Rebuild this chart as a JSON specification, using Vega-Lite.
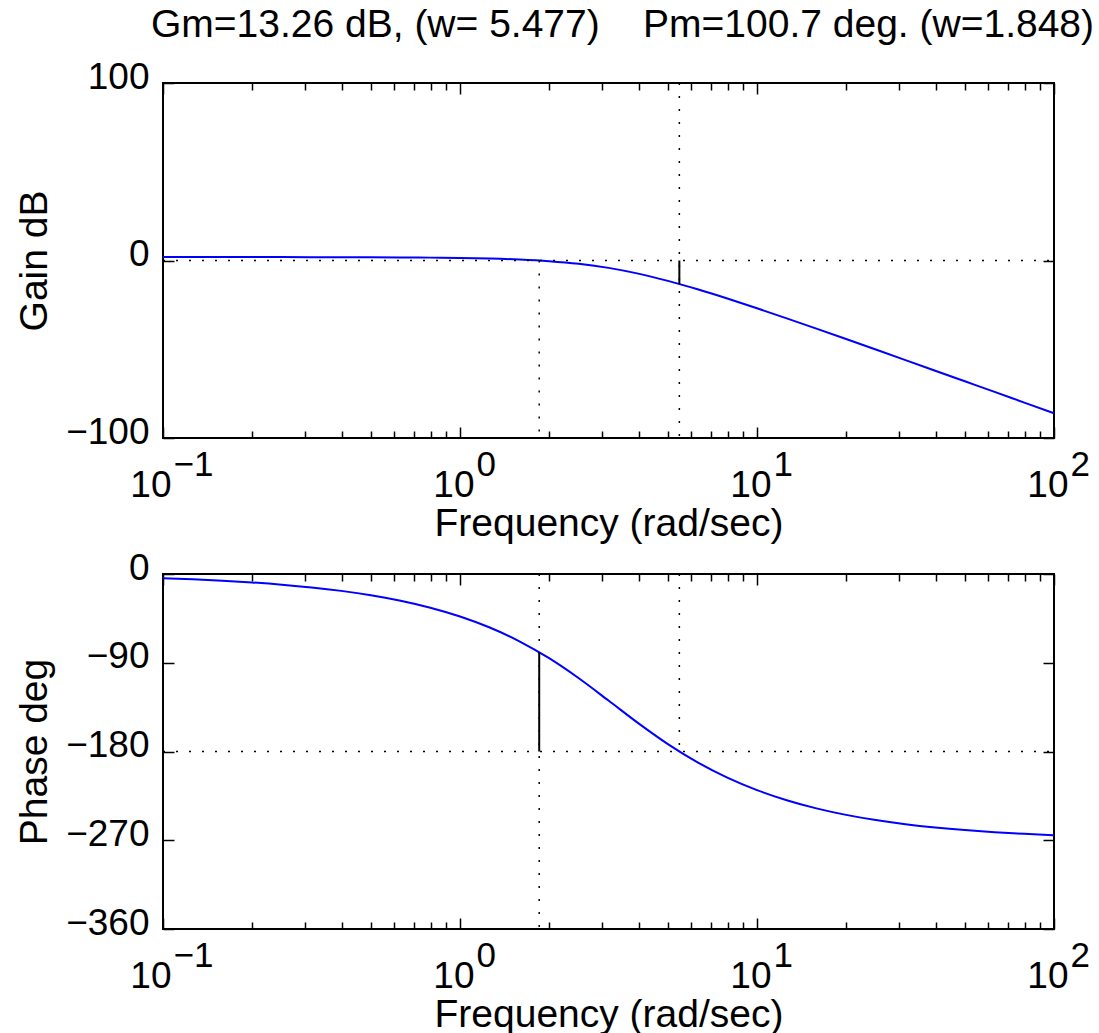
{
  "$schema": "https://vega.github.io/schema/vega-lite/v6.json",
  "padding": {"left": 14, "top": 5, "right": 5, "bottom": 0},
  "background": "white",
  "config": {
    "view": {"stroke": "black", "strokeWidth": 2},
    "axis": {
      "domain": false, "grid": false,
      "labelFont": "Liberation Sans", "titleFont": "Liberation Sans",
      "labelColor": "black", "titleColor": "black", "tickColor": "black",
      "labelFontSize": 37, "titleFontSize": 39, "titleFontWeight": "normal",
      "tickWidth": 1.5, "labelFlush": false, "labelOverlap": false
    }
  },
  "datasets": {
    "bode": [
      {"w": 0.1, "gain": 1.93, "phase": -4.3},
      {"w": 0.1259, "gain": 1.93, "phase": -5.41},
      {"w": 0.1585, "gain": 1.93, "phase": -6.81},
      {"w": 0.1995, "gain": 1.92, "phase": -8.58},
      {"w": 0.2512, "gain": 1.91, "phase": -10.8},
      {"w": 0.3162, "gain": 1.89, "phase": -13.59},
      {"w": 0.3981, "gain": 1.86, "phase": -17.12},
      {"w": 0.5012, "gain": 1.81, "phase": -21.56},
      {"w": 0.631, "gain": 1.74, "phase": -27.15},
      {"w": 0.7943, "gain": 1.62, "phase": -34.21},
      {"w": 1, "gain": 1.42, "phase": -43.09},
      {"w": 1.2589, "gain": 1.1, "phase": -54.27},
      {"w": 1.5849, "gain": 0.55, "phase": -68.24},
      {"w": 1.9953, "gain": -0.36, "phase": -85.4},
      {"w": 2.5119, "gain": -1.85, "phase": -105.75},
      {"w": 3.1623, "gain": -4.15, "phase": -128.33},
      {"w": 3.9811, "gain": -7.39, "phase": -151.24},
      {"w": 5.0119, "gain": -11.49, "phase": -172.51},
      {"w": 6.3096, "gain": -16.24, "phase": -191.0},
      {"w": 7.9433, "gain": -21.43, "phase": -206.48},
      {"w": 10, "gain": -26.92, "phase": -219.14},
      {"w": 12.589, "gain": -32.59, "phase": -229.4},
      {"w": 15.849, "gain": -38.38, "phase": -237.65},
      {"w": 19.953, "gain": -44.25, "phase": -244.25},
      {"w": 25.119, "gain": -50.17, "phase": -249.52},
      {"w": 31.623, "gain": -56.11, "phase": -253.72},
      {"w": 39.811, "gain": -62.08, "phase": -257.06},
      {"w": 50.119, "gain": -68.06, "phase": -259.72},
      {"w": 63.096, "gain": -74.04, "phase": -261.83},
      {"w": 79.433, "gain": -80.04, "phase": -263.51},
      {"w": 100, "gain": -86.03, "phase": -264.84}
    ]
  },
  "vconcat": [
    {
      "width": 891, "height": 355,
      "title": {"text": "Gm=13.26 dB, (w= 5.477)\u00a0\u00a0\u00a0 Pm=100.7 deg. (w=1.848)", "anchor": "middle", "frame": "group", "fontSize": 39, "fontWeight": "normal", "font": "Liberation Sans", "color": "black", "offset": 13, "dx": 14},
      "resolve": {"axis": {"x": "independent", "y": "independent"}},
      "layer": [
        {
          "data": {"name": "bode"},
          "mark": {"type": "line", "color": "#0000ff", "strokeWidth": 2, "interpolate": "monotone"},
          "encoding": {
            "x": {"field": "w", "type": "quantitative", "scale": {"type": "log", "domain": [0.1, 100], "nice": false},
              "axis": {"orient": "bottom", "values": [1, 10, 100], "ticks": false, "labelExpr": "'10'", "labelAlign": "right", "labelBaseline": "alphabetic", "labelPadding": 58, "labelOffset": 14, "title": "Frequency (rad/sec)", "titleY": 97, "titleBaseline": "alphabetic"}},
            "y": {"field": "gain", "type": "quantitative", "scale": {"domain": [-100, 100], "nice": false, "zero": false},
              "axis": {"orient": "left", "values": [-100, 0, 100], "ticks": false, "labelOffset": -6, "labelPadding": 14, "labelBaseline": "middle", "title": "Gain dB", "titleX": -117, "titleBaseline": "alphabetic"}}
          }
        },
        {
          "data": {"name": "bode"},
          "mark": {"type": "point", "opacity": 0},
          "encoding": {
            "x": {"field": "w", "type": "quantitative", "scale": {"type": "log", "domain": [0.1, 100], "nice": false},
              "axis": {"orient": "bottom", "values": [1, 10, 100], "ticks": false, "labelExpr": "datum.value < 5 ? '0' : datum.value < 50 ? '1' : '2'", "labelAlign": "left", "labelBaseline": "alphabetic", "labelPadding": 37, "labelFontSize": 35, "labelOffset": 16, "title": null}},
            "y": {"field": "gain", "type": "quantitative", "scale": {"domain": [-100, 100], "nice": false, "zero": false},
              "axis": {"orient": "left", "values": [-100, 0, 100], "labels": false, "tickSize": -11, "title": null}}
          }
        },
        {
          "data": {"name": "bode"},
          "mark": {"type": "point", "opacity": 0},
          "encoding": {
            "x": {"field": "w", "type": "quantitative", "scale": {"type": "log", "domain": [0.1, 100], "nice": false},
              "axis": {"orient": "bottom", "values": [0.1], "ticks": false, "labelExpr": "'10'", "labelAlign": "right", "labelBaseline": "alphabetic", "labelPadding": 58, "labelOffset": 8, "title": null}},
            "y": {"field": "gain", "type": "quantitative", "scale": {"domain": [-100, 100], "nice": false, "zero": false}, "axis": null}
          }
        },
        {
          "data": {"name": "bode"},
          "mark": {"type": "point", "opacity": 0},
          "encoding": {
            "x": {"field": "w", "type": "quantitative", "scale": {"type": "log", "domain": [0.1, 100], "nice": false},
              "axis": {"orient": "bottom", "values": [0.1], "ticks": false, "labelExpr": "'\u22121'", "labelAlign": "left", "labelBaseline": "alphabetic", "labelPadding": 37, "labelFontSize": 35, "labelOffset": 10, "title": null}},
            "y": {"field": "gain", "type": "quantitative", "scale": {"domain": [-100, 100], "nice": false, "zero": false}, "axis": null}
          }
        },
        {
          "data": {"name": "bode"},
          "mark": {"type": "point", "opacity": 0},
          "encoding": {
            "x": {"field": "w", "type": "quantitative", "scale": {"type": "log", "domain": [0.1, 100], "nice": false},
              "axis": {"orient": "bottom", "values": [0.1, 1, 10, 100], "labels": false, "tickSize": -11, "title": null}},
            "y": {"field": "gain", "type": "quantitative", "scale": {"domain": [-100, 100], "nice": false, "zero": false},
              "axis": {"orient": "right", "values": [-100, 0, 100], "labels": false, "tickSize": -11, "title": null}}
          }
        },
        {
          "data": {"name": "bode"},
          "mark": {"type": "point", "opacity": 0},
          "encoding": {
            "x": {"field": "w", "type": "quantitative", "scale": {"type": "log", "domain": [0.1, 100], "nice": false},
              "axis": {"orient": "bottom", "values": [0.2, 0.3, 0.4, 0.5, 0.6, 0.7, 0.8, 0.9, 2, 3, 4, 5, 6, 7, 8, 9, 20, 30, 40, 50, 60, 70, 80, 90], "labels": false, "tickSize": -7, "title": null}},
            "y": {"field": "gain", "type": "quantitative", "scale": {"domain": [-100, 100], "nice": false, "zero": false}, "axis": null}
          }
        },
        {
          "data": {"name": "bode"},
          "mark": {"type": "point", "opacity": 0},
          "encoding": {
            "x": {"field": "w", "type": "quantitative", "scale": {"type": "log", "domain": [0.1, 100], "nice": false},
              "axis": {"orient": "top", "values": [0.1, 1, 10, 100], "labels": false, "tickSize": -11, "title": null}},
            "y": {"field": "gain", "type": "quantitative", "scale": {"domain": [-100, 100], "nice": false, "zero": false}, "axis": null}
          }
        },
        {
          "data": {"name": "bode"},
          "mark": {"type": "point", "opacity": 0},
          "encoding": {
            "x": {"field": "w", "type": "quantitative", "scale": {"type": "log", "domain": [0.1, 100], "nice": false},
              "axis": {"orient": "top", "values": [0.2, 0.3, 0.4, 0.5, 0.6, 0.7, 0.8, 0.9, 2, 3, 4, 5, 6, 7, 8, 9, 20, 30, 40, 50, 60, 70, 80, 90], "labels": false, "tickSize": -7, "title": null}},
            "y": {"field": "gain", "type": "quantitative", "scale": {"domain": [-100, 100], "nice": false, "zero": false}, "axis": null}
          }
        },
        {
          "data": {"values": [{"x1": 0.1, "x2": 100, "level": 0}]},
          "mark": {"type": "rule", "color": "black", "strokeWidth": 1.5, "strokeDash": [2, 11]},
          "encoding": {
            "x": {"field": "x1", "type": "quantitative", "scale": {"type": "log", "domain": [0.1, 100], "nice": false}, "axis": null},
            "x2": {"field": "x2"},
            "y": {"field": "level", "type": "quantitative", "scale": {"domain": [-100, 100], "nice": false, "zero": false}, "axis": null}
          }
        },
        {
          "data": {"values": [{"w": 1.848, "top": 0, "bottom": -100}, {"w": 5.477, "top": 100, "bottom": -100}]},
          "mark": {"type": "rule", "color": "black", "strokeWidth": 1.5, "strokeDash": [2, 11]},
          "encoding": {
            "x": {"field": "w", "type": "quantitative", "scale": {"type": "log", "domain": [0.1, 100], "nice": false}, "axis": null},
            "y": {"field": "top", "type": "quantitative", "scale": {"domain": [-100, 100], "nice": false, "zero": false}, "axis": null},
            "y2": {"field": "bottom"}
          }
        },
        {
          "data": {"values": [{"w": 5.477, "top": 0, "bottom": -13.26}]},
          "mark": {"type": "rule", "color": "black", "strokeWidth": 2},
          "encoding": {
            "x": {"field": "w", "type": "quantitative", "scale": {"type": "log", "domain": [0.1, 100], "nice": false}, "axis": null},
            "y": {"field": "top", "type": "quantitative", "scale": {"domain": [-100, 100], "nice": false, "zero": false}, "axis": null},
            "y2": {"field": "bottom"}
          }
        }
      ]
    },
    {
      "width": 891, "height": 355,
      "resolve": {"axis": {"x": "independent", "y": "independent"}},
      "layer": [
        {
          "data": {"name": "bode"},
          "mark": {"type": "line", "color": "#0000ff", "strokeWidth": 2, "interpolate": "monotone"},
          "encoding": {
            "x": {"field": "w", "type": "quantitative", "scale": {"type": "log", "domain": [0.1, 100], "nice": false},
              "axis": {"orient": "bottom", "values": [1, 10, 100], "ticks": false, "labelExpr": "'10'", "labelAlign": "right", "labelBaseline": "alphabetic", "labelPadding": 58, "labelOffset": 14, "title": "Frequency (rad/sec)", "titleY": 97, "titleBaseline": "alphabetic"}},
            "y": {"field": "phase", "type": "quantitative", "scale": {"domain": [-360, 0], "nice": false, "zero": false},
              "axis": {"orient": "left", "values": [-360, -270, -180, -90, 0], "ticks": false, "labelOffset": -6, "labelPadding": 14, "labelBaseline": "middle", "title": "Phase deg", "titleX": -117, "titleBaseline": "alphabetic"}}
          }
        },
        {
          "data": {"name": "bode"},
          "mark": {"type": "point", "opacity": 0},
          "encoding": {
            "x": {"field": "w", "type": "quantitative", "scale": {"type": "log", "domain": [0.1, 100], "nice": false},
              "axis": {"orient": "bottom", "values": [1, 10, 100], "ticks": false, "labelExpr": "datum.value < 5 ? '0' : datum.value < 50 ? '1' : '2'", "labelAlign": "left", "labelBaseline": "alphabetic", "labelPadding": 37, "labelFontSize": 35, "labelOffset": 16, "title": null}},
            "y": {"field": "phase", "type": "quantitative", "scale": {"domain": [-360, 0], "nice": false, "zero": false},
              "axis": {"orient": "left", "values": [-360, -270, -180, -90, 0], "labels": false, "tickSize": -11, "title": null}}
          }
        },
        {
          "data": {"name": "bode"},
          "mark": {"type": "point", "opacity": 0},
          "encoding": {
            "x": {"field": "w", "type": "quantitative", "scale": {"type": "log", "domain": [0.1, 100], "nice": false},
              "axis": {"orient": "bottom", "values": [0.1], "ticks": false, "labelExpr": "'10'", "labelAlign": "right", "labelBaseline": "alphabetic", "labelPadding": 58, "labelOffset": 8, "title": null}},
            "y": {"field": "phase", "type": "quantitative", "scale": {"domain": [-360, 0], "nice": false, "zero": false}, "axis": null}
          }
        },
        {
          "data": {"name": "bode"},
          "mark": {"type": "point", "opacity": 0},
          "encoding": {
            "x": {"field": "w", "type": "quantitative", "scale": {"type": "log", "domain": [0.1, 100], "nice": false},
              "axis": {"orient": "bottom", "values": [0.1], "ticks": false, "labelExpr": "'\u22121'", "labelAlign": "left", "labelBaseline": "alphabetic", "labelPadding": 37, "labelFontSize": 35, "labelOffset": 10, "title": null}},
            "y": {"field": "phase", "type": "quantitative", "scale": {"domain": [-360, 0], "nice": false, "zero": false}, "axis": null}
          }
        },
        {
          "data": {"name": "bode"},
          "mark": {"type": "point", "opacity": 0},
          "encoding": {
            "x": {"field": "w", "type": "quantitative", "scale": {"type": "log", "domain": [0.1, 100], "nice": false},
              "axis": {"orient": "bottom", "values": [0.1, 1, 10, 100], "labels": false, "tickSize": -11, "title": null}},
            "y": {"field": "phase", "type": "quantitative", "scale": {"domain": [-360, 0], "nice": false, "zero": false},
              "axis": {"orient": "right", "values": [-360, -270, -180, -90, 0], "labels": false, "tickSize": -11, "title": null}}
          }
        },
        {
          "data": {"name": "bode"},
          "mark": {"type": "point", "opacity": 0},
          "encoding": {
            "x": {"field": "w", "type": "quantitative", "scale": {"type": "log", "domain": [0.1, 100], "nice": false},
              "axis": {"orient": "bottom", "values": [0.2, 0.3, 0.4, 0.5, 0.6, 0.7, 0.8, 0.9, 2, 3, 4, 5, 6, 7, 8, 9, 20, 30, 40, 50, 60, 70, 80, 90], "labels": false, "tickSize": -7, "title": null}},
            "y": {"field": "phase", "type": "quantitative", "scale": {"domain": [-360, 0], "nice": false, "zero": false}, "axis": null}
          }
        },
        {
          "data": {"name": "bode"},
          "mark": {"type": "point", "opacity": 0},
          "encoding": {
            "x": {"field": "w", "type": "quantitative", "scale": {"type": "log", "domain": [0.1, 100], "nice": false},
              "axis": {"orient": "top", "values": [0.1, 1, 10, 100], "labels": false, "tickSize": -11, "title": null}},
            "y": {"field": "phase", "type": "quantitative", "scale": {"domain": [-360, 0], "nice": false, "zero": false}, "axis": null}
          }
        },
        {
          "data": {"name": "bode"},
          "mark": {"type": "point", "opacity": 0},
          "encoding": {
            "x": {"field": "w", "type": "quantitative", "scale": {"type": "log", "domain": [0.1, 100], "nice": false},
              "axis": {"orient": "top", "values": [0.2, 0.3, 0.4, 0.5, 0.6, 0.7, 0.8, 0.9, 2, 3, 4, 5, 6, 7, 8, 9, 20, 30, 40, 50, 60, 70, 80, 90], "labels": false, "tickSize": -7, "title": null}},
            "y": {"field": "phase", "type": "quantitative", "scale": {"domain": [-360, 0], "nice": false, "zero": false}, "axis": null}
          }
        },
        {
          "data": {"values": [{"x1": 0.1, "x2": 100, "level": -180}]},
          "mark": {"type": "rule", "color": "black", "strokeWidth": 1.5, "strokeDash": [2, 11]},
          "encoding": {
            "x": {"field": "x1", "type": "quantitative", "scale": {"type": "log", "domain": [0.1, 100], "nice": false}, "axis": null},
            "x2": {"field": "x2"},
            "y": {"field": "level", "type": "quantitative", "scale": {"domain": [-360, 0], "nice": false, "zero": false}, "axis": null}
          }
        },
        {
          "data": {"values": [{"w": 1.848, "top": 0, "bottom": -360}, {"w": 5.477, "top": 0, "bottom": -180}]},
          "mark": {"type": "rule", "color": "black", "strokeWidth": 1.5, "strokeDash": [2, 11]},
          "encoding": {
            "x": {"field": "w", "type": "quantitative", "scale": {"type": "log", "domain": [0.1, 100], "nice": false}, "axis": null},
            "y": {"field": "top", "type": "quantitative", "scale": {"domain": [-360, 0], "nice": false, "zero": false}, "axis": null},
            "y2": {"field": "bottom"}
          }
        },
        {
          "data": {"values": [{"w": 1.848, "top": -79.3, "bottom": -180}]},
          "mark": {"type": "rule", "color": "black", "strokeWidth": 2},
          "encoding": {
            "x": {"field": "w", "type": "quantitative", "scale": {"type": "log", "domain": [0.1, 100], "nice": false}, "axis": null},
            "y": {"field": "top", "type": "quantitative", "scale": {"domain": [-360, 0], "nice": false, "zero": false}, "axis": null},
            "y2": {"field": "bottom"}
          }
        }
      ]
    }
  ],
  "spacing": 136,
  "bounds": "flush"
}
